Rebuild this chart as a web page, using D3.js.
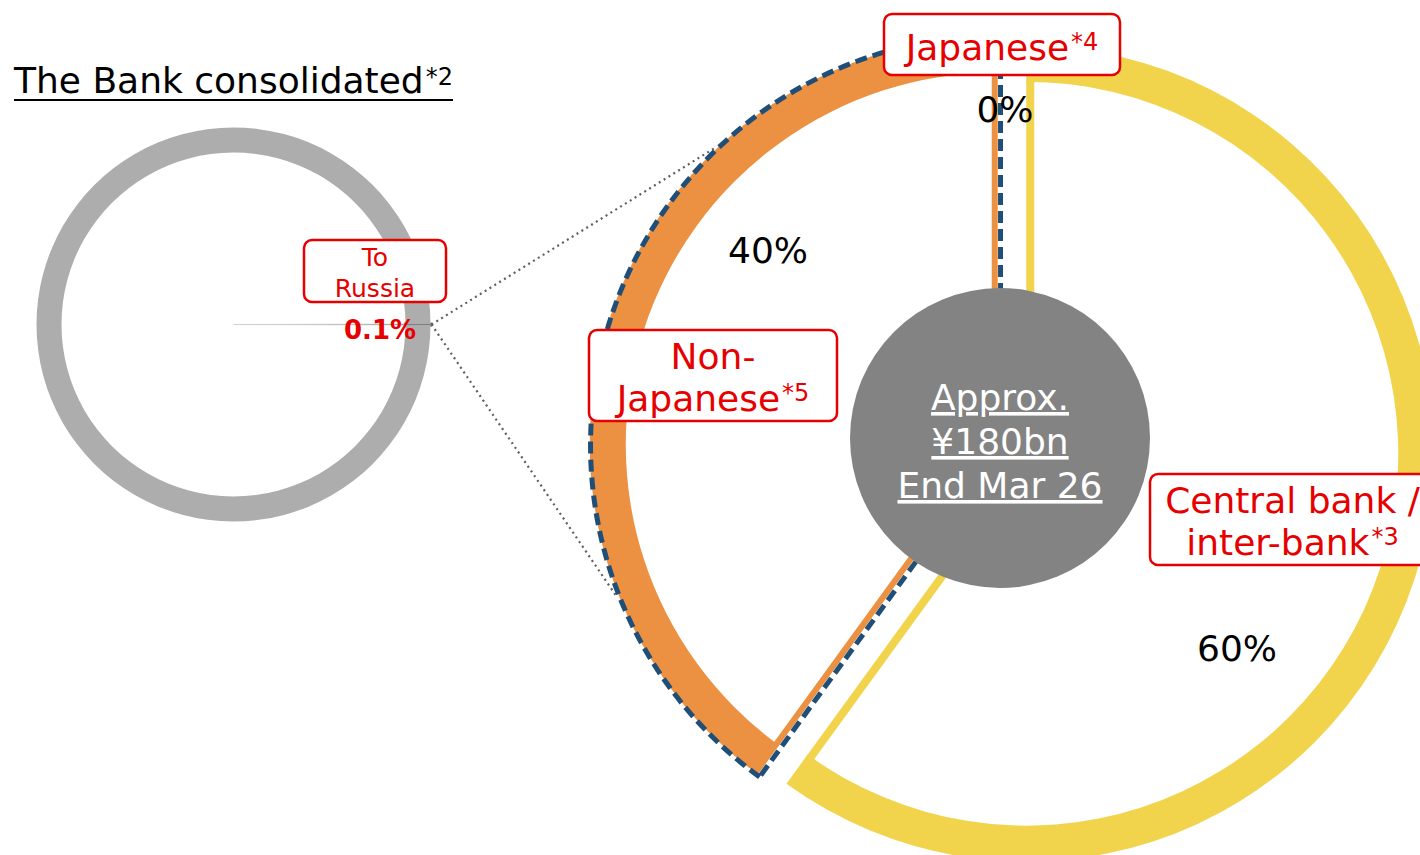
<!DOCTYPE html>
<meta charset="utf-8">
<title>Exposure to Russia</title>
<style>
  body { margin: 0; background: #fff; }
  svg { display: block; font-family: "DejaVu Sans", Verdana, sans-serif; }
</style>
<body>
<svg id="chart" width="1420" height="855"></svg>
<script src="https://cdn.jsdelivr.net/npm/d3@7/dist/d3.min.js"></script>
<script>
// ---- data ----
var bankNames  = ["To Russia", "Other"];
var bankShares = [0.1, 99.9];

var russiaNames  = ["Central bank / inter-bank", "Non-Japanese", "Japanese"];
var russiaShares = [60, 40, 0];
var russiaNotes  = ["*3", "*5", "*4"];
var russiaGroup  = ["interbank", "corporate", "corporate"];

var totalLines = ["Approx.", "¥180bn", "End Mar 26"];
var titleText = "The Bank consolidated", titleNote = "*2";

// ---- layout ----
var svg = d3.select("#chart");
var RED = "#e60000";

var small = { cx: 233.5, cy: 324.5, rIn: 172, rOut: 197 };
var big = { cx: 1012, cy: 449, explode: 15, rIn: 372, rOut: 408 };
var groupStyle = {
  interbank: { color: "#f2d44c", lineW: 8 },
  corporate: { color: "#ec9141", lineW: 6, outline: true }
};

function pt(c, a, r) { return [c[0] + r * Math.sin(a), c[1] - r * Math.cos(a)]; }

// ---- big exploded pie, grouped ----
var pie = d3.pie().sort(null).value(function(d) { return d; });
var slices = pie(russiaShares);

var groups = d3.groups(slices.map(function(s, i) { return { s: s, g: russiaGroup[i] }; }), function(d) { return d.g; })
  .map(function(e) {
    var a0 = d3.min(e[1], function(d) { return d.s.startAngle; });
    var a1 = d3.max(e[1], function(d) { return d.s.endAngle; });
    var mid = (a0 + a1) / 2;
    return { key: e[0], a0: a0, a1: a1, mid: mid,
             apex: pt([big.cx, big.cy], mid, big.explode), style: groupStyle[e[0]] };
  });

// small donut (drawn first; connectors go over it)
var sPie = d3.pie().sort(null).value(function(d) { return d; })
  .startAngle(Math.PI / 2 - Math.PI * bankShares[0] / 100)
  .endAngle(Math.PI / 2 - Math.PI * bankShares[0] / 100 + 2 * Math.PI);
var sSlices = sPie(bankShares);
var gs = svg.append("g").attr("transform", "translate(" + small.cx + "," + small.cy + ")");
gs.selectAll("path.ring").data(sSlices).enter().append("path")
  .attr("d", d3.arc().innerRadius(small.rIn).outerRadius(small.rOut))
  .attr("fill", function(d, i) { return i === 0 ? "#7f7f7f" : "#adadad"; })
  .attr("stroke", function(d, i) { return i === 0 ? "#7f7f7f" : "none"; })
  .attr("stroke-width", 3);
// thin pie wedge of the Russia share
gs.append("path").datum(sSlices[0])
  .attr("d", d3.arc().innerRadius(0).outerRadius(small.rIn))
  .attr("fill", "#8c8c8c").attr("stroke", "#c4c4c4").attr("stroke-width", 0.6);

// connectors from the Russia slice to the zoomed pie
var corp = groups.find(function(g) { return g.key === "corporate"; });
var from = pt([small.cx, small.cy], (sSlices[0].startAngle + sSlices[0].endAngle) / 2, small.rOut + 1);
[316.2, 248].forEach(function(deg) {
  var to = pt(corp.apex, deg * Math.PI / 180, big.rOut + 2);
  svg.append("line")
    .attr("x1", from[0]).attr("y1", from[1]).attr("x2", to[0]).attr("y2", to[1])
    .attr("stroke", "#5f5f5f").attr("stroke-width", 2.2).attr("stroke-dasharray", "2 3.7");
});

// bands + radial edges
groups.forEach(function(g) {
  var st = g.style;
  svg.append("path")
    .attr("transform", "translate(" + g.apex + ")")
    .attr("d", d3.arc().innerRadius(big.rIn).outerRadius(big.rOut).startAngle(g.a0).endAngle(g.a1)())
    .attr("fill", st.color);
  [[g.a0, 1], [g.a1, -1]].forEach(function(e) {
    var a = e[0], off = e[1] * st.lineW / 2;
    var n = [Math.cos(a) * off, Math.sin(a) * off];
    var p0 = pt(g.apex, a, 0), p1 = pt(g.apex, a, big.rIn + 2);
    svg.append("line")
      .attr("x1", p0[0] + n[0]).attr("y1", p0[1] + n[1])
      .attr("x2", p1[0] + n[0]).attr("y2", p1[1] + n[1])
      .attr("stroke", st.color).attr("stroke-width", st.lineW);
  });
});

// dashed outline round the corporate group
groups.filter(function(g) { return g.style.outline; }).forEach(function(g) {
  var half = (g.a1 - g.a0) / 2;
  var o = pt(g.apex, g.mid, -2.8 / Math.sin(half));
  svg.append("path")
    .attr("transform", "translate(" + o + ")")
    .attr("d", d3.arc().innerRadius(0).outerRadius(big.rOut + 2).startAngle(g.a0).endAngle(g.a1)())
    .attr("fill", "none").attr("stroke", "#1f4e79").attr("stroke-width", 5)
    .attr("stroke-dasharray", "12 6").attr("stroke-linejoin", "miter");
});

// centre disc with total
svg.append("circle").attr("cx", big.cx - 12).attr("cy", big.cy - 11).attr("r", 150).attr("fill", "#838383");
svg.append("g").selectAll("text").data(totalLines).enter().append("text")
  .attr("x", big.cx - 12).attr("y", function(d, i) { return 410 + i * 44; })
  .attr("text-anchor", "middle").attr("fill", "#fff").attr("font-size", 36)
  .style("text-decoration", "underline").text(function(d) { return d; });

// percentages
var pctPos = { "Central bank / inter-bank": [1237, 661], "Non-Japanese": [768, 263], "Japanese": [1005, 122] };
russiaNames.forEach(function(n, i) {
  svg.append("text").attr("x", pctPos[n][0]).attr("y", pctPos[n][1])
    .attr("text-anchor", "middle").attr("font-size", 36).attr("fill", "#000")
    .text(russiaShares[i] + "%");
});

// callout boxes
function callout(box, lines, note, size, noteSize) {
  var g = svg.append("g");
  g.append("rect").attr("x", box[0]).attr("y", box[1]).attr("width", box[2]).attr("height", box[3])
    .attr("rx", 8).attr("fill", "#fff").attr("stroke", RED).attr("stroke-width", 2.5);
  lines.forEach(function(l, i) {
    var t = g.append("text").attr("x", box[0] + box[2] / 2).attr("y", box[4] + i * box[5])
      .attr("text-anchor", "middle").attr("font-size", size).attr("fill", RED);
    t.append("tspan").text(l);
    if (note && i === lines.length - 1)
      t.append("tspan").attr("font-size", noteSize).attr("dx", 2).attr("dy", -10).text(note);
  });
}
var labelLines = {
  "Central bank / inter-bank": ["Central bank /", "inter-bank"],
  "Non-Japanese": ["Non-", "Japanese"],
  "Japanese": ["Japanese"]
};
var labelBox = {
  "Central bank / inter-bank": [1150, 474, 285, 91, 513, 42],
  "Non-Japanese": [589, 330, 248, 91, 369, 42],
  "Japanese": [884, 14, 236, 61, 60, 0]
};
russiaNames.forEach(function(n, i) {
  callout(labelBox[n], labelLines[n], russiaNotes[i], 36, 24);
});
callout([304, 240, 142, 62, 266, 31], bankNames[0].split(" "), null, 25);
svg.append("text").attr("x", 380).attr("y", 339).attr("text-anchor", "middle")
  .attr("font-size", 26).attr("font-weight", "bold").attr("fill", RED)
  .text(bankShares[0] + "%");

// title, one underline running under the footnote mark too
var tt = svg.append("text").attr("x", 14).attr("y", 93).attr("font-size", 36).attr("fill", "#000");
tt.append("tspan").text(titleText);
tt.append("tspan").attr("font-size", 24).attr("dx", 2).attr("dy", -8).text(titleNote);
var tb = tt.node().getBBox();
svg.append("line").attr("x1", 14).attr("x2", tb.x + tb.width).attr("y1", 100).attr("y2", 100)
  .attr("stroke", "#000").attr("stroke-width", 2);
</script>
</body>
